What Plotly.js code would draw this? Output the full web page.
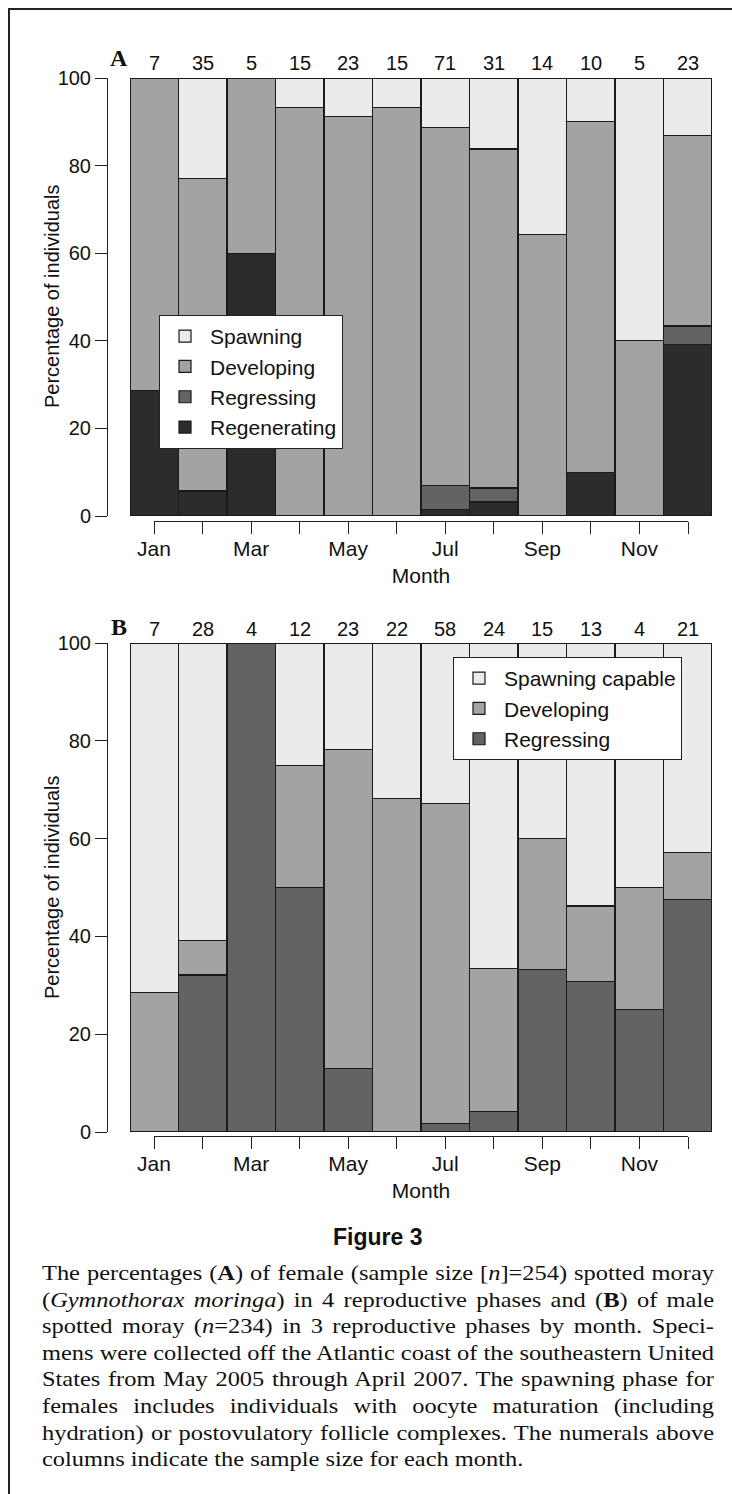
<!DOCTYPE html>
<html>
<head>
<meta charset="utf-8">
<script src="https://cdn.plot.ly/plotly-3.0.1.min.js"></script>
<style>
  html, body { margin: 0; padding: 0; background: #fff; }
  #plot { width: 732px; height: 1494px; }
  #caption {
    position: absolute; left: 42px; top: 1260px; width: 600px;
    transform: scaleX(1.12); transform-origin: 0 0;
    font-family: "Liberation Serif", "Times New Roman", serif;
    font-size: 21.8px; line-height: 26.6px; color: #111;
  }
  #caption .ln { text-align: justify; text-align-last: justify; white-space: nowrap; }
  #caption .last { text-align: left; text-align-last: left; }
</style>
</head>
<body>
<div id="plot"></div>
<div id="caption">
  <div class="ln">The percentages (<b>A</b>) of female (sample size [<i>n</i>]=254) spotted moray</div>
  <div class="ln">(<i>Gymnothorax moringa</i>) in 4 reproductive phases and (<b>B</b>) of male</div>
  <div class="ln">spotted moray (<i>n</i>=234) in 3 reproductive phases by month. Speci-</div>
  <div class="ln">mens were collected off the Atlantic coast of the southeastern United</div>
  <div class="ln">States from May 2005 through April 2007. The spawning phase for</div>
  <div class="ln">females includes individuals with oocyte maturation (including</div>
  <div class="ln">hydration) or postovulatory follicle complexes. The numerals above</div>
  <div class="ln last">columns indicate the sample size for each month.</div>
</div>
<script>
// ---------- data ----------
const months = ['Jan','Feb','Mar','Apr','May','Jun','Jul','Aug','Sep','Oct','Nov','Dec'];
const monthTickText = ['Jan','','Mar','','May','','Jul','','Sep','','Nov',''];
const yTicks = [0, 20, 40, 60, 80, 100];

// Panel A: females (percent)
const nFemale = [7, 35, 5, 15, 23, 15, 71, 31, 14, 10, 5, 23];
const femaleRegenerating = [28.6, 5.7, 60, 0, 0, 0, 1.4, 3.2, 0, 10, 0, 39.1];
const femaleRegressing   = [0, 0, 0, 0, 0, 0, 5.6, 3.2, 0, 0, 0, 4.3];
const femaleDeveloping   = [71.4, 71.4, 40, 93.3, 91.3, 93.3, 81.7, 77.4, 64.3, 80, 40, 43.5];
const femaleSpawning     = [0, 22.9, 0, 6.7, 8.7, 6.7, 11.3, 16.2, 35.7, 10, 60, 13.1];

// Panel B: males (percent)
const nMale = [7, 28, 4, 12, 23, 22, 58, 24, 15, 13, 4, 21];
const maleRegressing = [0, 32.1, 100, 50, 13.0, 0, 1.7, 4.2, 33.3, 30.8, 25, 47.6];
const maleDeveloping = [28.6, 7.1, 0, 25, 65.2, 68.2, 65.5, 29.2, 26.7, 15.4, 25, 9.5];
const maleSpawning   = [71.4, 60.8, 0, 25, 21.8, 31.8, 32.8, 66.6, 40, 53.8, 50, 42.9];

// ---------- styling ----------
const W = 732, H = 1494;
const px = x => x / W;
const py = y => 1 - y / H;
const C = { spawn: '#ebebeb', dev: '#a3a3a3', regr: '#636363', regen: '#2c2c2c' };
const SANS = '"Liberation Sans", Arial, Helvetica, sans-serif';
const SERIF = '"Liberation Serif", "Times New Roman", serif';
const INK = '#111';
const outline = { color: '#1a1a1a', width: 1.2 };

function bar(name, y, color, xa, ya, legend) {
  return { type: 'bar', name: name, x: months, y: y, xaxis: xa, yaxis: ya, legend: legend,
    marker: { color: color, line: outline }, hoverinfo: 'skip' };
}

const traces = [
  bar('Regenerating', femaleRegenerating, C.regen, 'x', 'y', 'legend'),
  bar('Regressing', femaleRegressing, C.regr, 'x', 'y', 'legend'),
  bar('Developing', femaleDeveloping, C.dev, 'x', 'y', 'legend'),
  bar('Spawning', femaleSpawning, C.spawn, 'x', 'y', 'legend'),
  bar('Regressing', maleRegressing, C.regr, 'x2', 'y2', 'legend2'),
  bar('Developing', maleDeveloping, C.dev, 'x2', 'y2', 'legend2'),
  bar('Spawning capable', maleSpawning, C.spawn, 'x2', 'y2', 'legend2'),
  // empty carriers for the separate month axes
  { type: 'scatter', x: [], y: [], xaxis: 'x3', yaxis: 'y', showlegend: false, hoverinfo: 'skip' },
  { type: 'scatter', x: [], y: [], xaxis: 'x4', yaxis: 'y2', showlegend: false, hoverinfo: 'skip' }
];

const tickFont = { family: SANS, size: 20, color: INK };
const monthFont = { family: SANS, size: 21, color: INK };

function hiddenCat(domain, anchor) {
  return { domain: domain, anchor: anchor, type: 'category', categoryorder: 'array',
    categoryarray: months, range: [-0.5, 11.5], visible: false, fixedrange: true };
}
function yAx(domain) {
  return { domain: domain, anchor: 'free', position: px(107), range: [0, 100],
    tickmode: 'array', tickvals: yTicks, ticks: 'outside', ticklen: 12, tickwidth: 1,
    tickcolor: '#222', showline: true, linecolor: '#222', linewidth: 1,
    showgrid: false, zeroline: false, tickfont: tickFont, fixedrange: true };
}
function monthAx(yPix) {
  return { domain: [px(154), px(688)], anchor: 'free', position: py(yPix), range: [0, 11],
    tickmode: 'array', tickvals: months.map((m, i) => i), ticktext: monthTickText,
    ticks: 'outside', ticklen: 12, tickwidth: 1, tickcolor: '#222', ticklabelstandoff: -3,
    showline: true, linecolor: '#222', linewidth: 1, showgrid: false, zeroline: false,
    tickfont: monthFont, fixedrange: true,
    title: { text: 'Month', font: monthFont, standoff: 9 } };
}

const annotations = [];
nFemale.forEach((n, i) => annotations.push({ xref: 'x', yref: 'y', x: months[i], y: 100,
  yshift: 15, text: String(n), showarrow: false, xanchor: 'center', yanchor: 'middle', font: tickFont }));
nMale.forEach((n, i) => annotations.push({ xref: 'x2', yref: 'y2', x: months[i], y: 100,
  yshift: 14, text: String(n), showarrow: false, xanchor: 'center', yanchor: 'middle', font: tickFont }));
function paperText(text, x, y, font, angle) {
  return { xref: 'paper', yref: 'paper', x: px(x), y: py(y), text: text, showarrow: false,
    xanchor: 'center', yanchor: 'middle', textangle: angle || 0, font: font };
}
annotations.push(paperText('<b>A</b>', 119, 58, { family: SERIF, size: 24, color: INK }));
annotations.push(paperText('<b>B</b>', 119, 627, { family: SERIF, size: 24, color: INK }));
annotations.push(paperText('Percentage of individuals', 52, 297, { family: SANS, size: 20, color: INK }, -90));
annotations.push(paperText('Percentage of individuals', 52, 888, { family: SANS, size: 20, color: INK }, -90));
annotations.push(paperText('<b>Figure 3</b>', 377, 1237,
  { family: '"Liberation Sans Narrow", ' + SANS, size: 23, color: INK }));

const legendFont = { family: SANS, size: 21, color: INK };
const layout = {
  width: W, height: H,
  margin: { l: 0, r: 0, t: 0, b: 0, pad: 0 },
  paper_bgcolor: '#ffffff', plot_bgcolor: 'rgba(0,0,0,0)',
  barmode: 'stack', bargap: 0,
  showlegend: true,
  xaxis: hiddenCat([px(130), px(712)], 'y'),
  yaxis: yAx([py(516), py(78)]),
  xaxis2: hiddenCat([px(130), px(712)], 'y2'),
  yaxis2: yAx([py(1132), py(643)]),
  xaxis3: monthAx(521),
  xaxis4: monthAx(1136),
  legend: { x: px(159), y: py(315), xanchor: 'left', yanchor: 'top', traceorder: 'reversed',
    bgcolor: '#ffffff', bordercolor: '#222', borderwidth: 1, font: legendFont, itemwidth: 40 },
  legend2: { x: px(453), y: py(657), xanchor: 'left', yanchor: 'top', traceorder: 'reversed',
    bgcolor: '#ffffff', bordercolor: '#222', borderwidth: 1, font: legendFont, itemwidth: 40 },
  annotations: annotations,
  shapes: [
    { type: 'line', xref: 'paper', yref: 'paper', x0: px(8), x1: 1, y0: py(9), y1: py(9),
      line: { color: '#222', width: 2 } },
    { type: 'line', xref: 'paper', yref: 'paper', x0: px(9), x1: px(9), y0: py(9), y1: 0,
      line: { color: '#222', width: 2 } }
  ]
};

Plotly.newPlot('plot', traces, layout, { staticPlot: true, displayModeBar: false });
</script>
</body>
</html>
